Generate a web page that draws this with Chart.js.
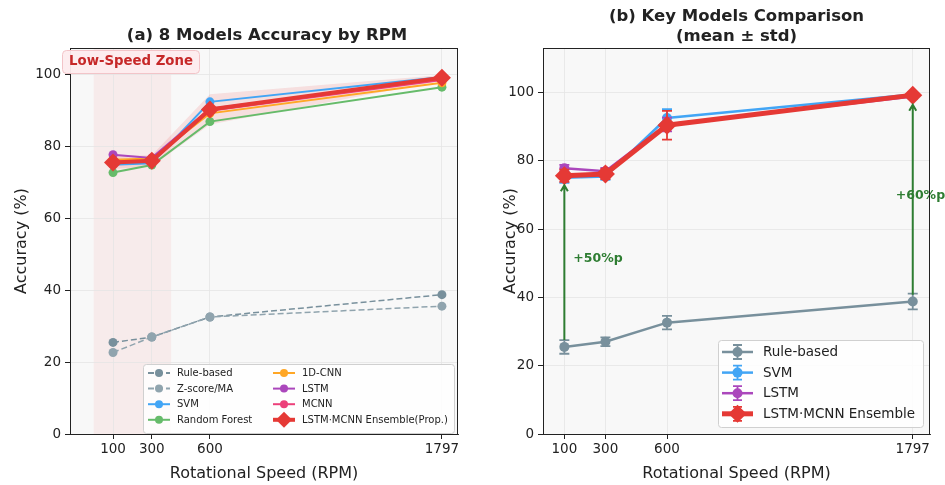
<!DOCTYPE html>
<html>
<head>
<meta charset="utf-8">
<script src="https://cdn.jsdelivr.net/npm/chart.js@4.4.1/dist/chart.umd.min.js"></script>
<style>
  body { margin: 0; background: #fff; }
  #wrap { position: relative; width: 945px; height: 485px; }
  .box { position: absolute; top: 0; height: 485px; }
  #boxA { left: 0; width: 472px; }
  #boxB { left: 472px; width: 473px; }
</style>
</head>
<body>
<div id="wrap">
  <div class="box" id="boxA"><canvas id="chartA"></canvas></div>
  <div class="box" id="boxB"><canvas id="chartB"></canvas></div>
</div>
<script>
// ---- data ----
const rpm = [100, 300, 600, 1797];
const ruleBased = [25.5, 27.0, 32.6, 38.8];
const zScoreMA = [22.7, 27.0, 32.6, 35.6];
const svm = [75.0, 75.4, 92.5, 99.4];
const randomForest = [72.8, 74.9, 87.0, 96.6];
const cnn1d = [76.4, 76.7, 89.3, 97.8];
const lstm = [77.8, 76.9, 90.6, 98.8];
const mcnn = [75.9, 76.0, 90.0, 98.6];
const ensemble = [75.6, 76.1, 90.4, 99.2];

const ruleStd = [2.0, 1.3, 2.0, 2.3];
const svmStd = [1.5, 1.0, 2.6, 0.5];
const lstmStd = [1.0, 1.0, 2.0, 0.7];
const ensembleStd = [1.8, 1.5, 4.2, 0.8];

const yTicks = [0, 20, 40, 60, 80, 100];
const lowSpeedZone = [0, 400];
const gapLabels = ["+50%p", "+60%p"];
const gapIdx = [0, 3];

const FONT = "'DejaVu Sans', sans-serif";
const INK = "#222";
Chart.defaults.font.family = FONT;

const colors = {
  rule: "#78909C", z: "#90A4AE", svm: "#42A5F5", rf: "#66BB6A",
  cnn: "#FFA726", lstm: "#AB47BC", mcnn: "#EC407A", ens: "#E53935", gap: "#2E7D32"
};

const pts = (arr) => arr.map((v, i) => ({ x: rpm[i], y: v }));

const leftSeries = [
  { label: "Rule-based", data: ruleBased, color: colors.rule, dash: [6, 3] },
  { label: "Z-score/MA", data: zScoreMA, color: colors.z, dash: [6, 3] },
  { label: "SVM", data: svm, color: colors.svm },
  { label: "Random Forest", data: randomForest, color: colors.rf },
  { label: "1D-CNN", data: cnn1d, color: colors.cnn },
  { label: "LSTM", data: lstm, color: colors.lstm },
  { label: "MCNN", data: mcnn, color: colors.mcnn },
  { label: "LSTM·MCNN Ensemble(Prop.)", data: ensemble, color: colors.ens, big: true }
];

const rightSeries = [
  { label: "Rule-based", data: ruleBased, std: ruleStd, color: colors.rule },
  { label: "SVM", data: svm, std: svmStd, color: colors.svm },
  { label: "LSTM", data: lstm, std: lstmStd, color: colors.lstm },
  { label: "LSTM·MCNN Ensemble", data: ensemble, std: ensembleStd, color: colors.ens, big: true }
];

// ---- helpers ----
function xScale(min, max) {
  return {
    type: "linear", min, max,
    afterBuildTicks: (s) => { s.ticks = rpm.map((v) => ({ value: v })); },
    afterFit: (s) => { s.height = 51; },
    grid: { color: "#e4e4e4", lineWidth: 0.8, tickColor: INK, tickLength: 5, tickWidth: 1 },
    border: { color: INK, width: 1 },
    ticks: { color: INK, font: { size: 13.5 }, padding: 2, maxRotation: 0, autoSkip: false, callback: (v) => String(v) },
    title: { display: true, text: "Rotational Speed (RPM)", color: INK, font: { size: 16 }, padding: { top: 0, bottom: 2 } }
  };
}
function yScale(max, width, titlePad) {
  return {
    min: 0, max,
    afterBuildTicks: (s) => { s.ticks = yTicks.map((v) => ({ value: v })); },
    afterFit: (s) => { s.width = width; },
    grid: { color: "#e4e4e4", lineWidth: 0.8, tickColor: INK, tickLength: 5, tickWidth: 1 },
    border: { color: INK, width: 1 },
    ticks: { color: INK, font: { size: 13.5 }, padding: 4 },
    title: { display: true, text: "Accuracy (%)", color: INK, font: { size: 16 }, padding: { top: titlePad, bottom: 0 } }
  };
}
function drawBox(ctx, x, y, w, h) {
  ctx.save();
  ctx.fillStyle = "rgba(255,255,255,0.85)";
  ctx.strokeStyle = "#d0d0d0";
  ctx.lineWidth = 1;
  ctx.beginPath();
  ctx.roundRect(x + 0.5, y + 0.5, w, h, 3);
  ctx.fill();
  ctx.stroke();
  ctx.restore();
}
function marker(ctx, style, x, y, r, color) {
  ctx.fillStyle = color;
  ctx.strokeStyle = color;
  Chart.helpers.drawPoint(ctx, { pointStyle: style, radius: r, borderWidth: 0, rotation: 0 }, x, y);
}

const backdrop = {
  id: "backdrop",
  beforeDraw(chart) {
    const { ctx, chartArea: a } = chart;
    ctx.save();
    ctx.fillStyle = "#f8f8f8";
    ctx.fillRect(a.left, a.top, a.right - a.left, a.bottom - a.top);
    if (chart.canvas.id === "chartA") {
      const x = chart.scales.x;
      const x0 = x.getPixelForValue(lowSpeedZone[0]);
      const x1 = x.getPixelForValue(lowSpeedZone[1]);
      ctx.fillStyle = "rgba(239,83,80,0.075)";
      ctx.fillRect(x0, a.top, x1 - x0, a.bottom - a.top);
    }
    ctx.restore();
  },
  afterDraw(chart) {
    const { ctx, chartArea: a } = chart;
    ctx.save();
    ctx.strokeStyle = INK;
    ctx.lineWidth = 1;
    ctx.strokeRect(a.left + 0.5, a.top + 0.5, a.right - a.left - 1, a.bottom - a.top);
    ctx.restore();
  }
};

// ---- chart (a) ----
const bandUpper = ensemble.map((v, i) => v + ensembleStd[i]);
const bandLower = ensemble.map((v, i) => v - ensembleStd[i]);

const leftSets = [
  { label: "band+", data: pts(bandUpper), borderWidth: 0, pointRadius: 0, fill: "+1", backgroundColor: "rgba(229,57,53,0.13)", order: 20 },
  { label: "band-", data: pts(bandLower), borderWidth: 0, pointRadius: 0, fill: false, order: 21 }
].concat(leftSeries.map((s, i) => ({
  label: s.label,
  data: pts(s.data),
  borderColor: s.color,
  backgroundColor: s.color,
  borderWidth: s.big ? 4 : (s.dash ? 1.5 : 2),
  borderDash: s.dash || [],
  pointStyle: s.big ? "rectRot" : "circle",
  pointRadius: s.big ? 9 : 4.5,
  pointBorderWidth: 0,
  fill: false,
  order: leftSeries.length - i
})));

const panelA = {
  id: "panelA",
  afterDraw(chart) {
    const { ctx, chartArea: a } = chart;
    ctx.save();
    ctx.fillStyle = INK;
    ctx.font = `bold 16.5px ${FONT}`;
    ctx.textAlign = "center";
    ctx.textBaseline = "middle";
    ctx.fillText("(a) 8 Models Accuracy by RPM", (a.left + a.right) / 2 + 3, 36);

    // low speed tag
    ctx.fillStyle = "rgba(253,236,238,0.95)";
    ctx.strokeStyle = "#f2c4c8";
    ctx.beginPath();
    ctx.roundRect(62.5, 50.5, 137, 23, 4);
    ctx.fill();
    ctx.stroke();
    ctx.fillStyle = "#C62828";
    ctx.font = `bold 13.3px ${FONT}`;
    ctx.fillText("Low-Speed Zone", 131, 62);

    // legend
    drawBox(ctx, 143, 364, 311, 69);
    ctx.font = `10px ${FONT}`;
    ctx.textAlign = "left";
    leftSeries.forEach((s, i) => {
      const col = Math.floor(i / 4);
      const row = i % 4;
      const lx = col === 0 ? 148 : 273;
      const ly = 373 + row * 15.6;
      ctx.strokeStyle = s.color;
      ctx.lineWidth = s.big ? 4 : 2;
      ctx.setLineDash(s.dash ? [6, 3] : []);
      ctx.beginPath();
      ctx.moveTo(lx, ly);
      ctx.lineTo(lx + 22, ly);
      ctx.stroke();
      ctx.setLineDash([]);
      marker(ctx, s.big ? "rectRot" : "circle", lx + 11, ly, s.big ? 8 : 4, s.color);
      ctx.fillStyle = INK;
      ctx.fillText(s.label, lx + 29, ly + 0.5);
    });
    ctx.restore();
  }
};

new Chart(document.getElementById("chartA"), {
  type: "line",
  data: { datasets: leftSets },
  options: {
    responsive: true, maintainAspectRatio: false, animation: false, events: [],
    layout: { padding: { top: 48, right: 14, left: 0, bottom: 0 } },
    plugins: { legend: { display: false }, tooltip: { enabled: false }, title: { display: false } },
    scales: { x: xScale(-122, 1880), y: yScale(107.5, 70, 12.5) }
  },
  plugins: [backdrop, panelA]
});

// ---- chart (b) ----
const rightSets = rightSeries.map((s, i) => ({
  label: s.label,
  data: pts(s.data),
  std: s.std,
  borderColor: s.color,
  backgroundColor: s.color,
  borderWidth: s.big ? 5 : 2.5,
  pointStyle: s.big ? "rectRot" : "circle",
  pointRadius: s.big ? 9.5 : 5,
  pointBorderWidth: 0,
  fill: false,
  order: rightSeries.length - i
}));

const panelB = {
  id: "panelB",
  beforeDatasetDraw(chart, args) {
    const ds = chart.data.datasets[args.index];
    if (!ds.std) return;
    const { ctx } = chart;
    const y = chart.scales.y;
    ctx.save();
    ctx.strokeStyle = ds.borderColor;
    ctx.lineWidth = 1.8;
    args.meta.data.forEach((el, i) => {
      const v = ds.data[i].y;
      const top = y.getPixelForValue(v + ds.std[i]);
      const bot = y.getPixelForValue(v - ds.std[i]);
      ctx.beginPath();
      ctx.moveTo(el.x, top); ctx.lineTo(el.x, bot);
      ctx.moveTo(el.x - 5, top); ctx.lineTo(el.x + 5, top);
      ctx.moveTo(el.x - 5, bot); ctx.lineTo(el.x + 5, bot);
      ctx.stroke();
    });
    ctx.restore();
  },
  afterDatasetsDraw(chart) {
    const { ctx } = chart;
    const x = chart.scales.x, y = chart.scales.y;
    ctx.save();
    ctx.strokeStyle = colors.gap;
    ctx.fillStyle = colors.gap;
    ctx.lineWidth = 2;
    gapIdx.forEach((k, j) => {
      const px = x.getPixelForValue(rpm[k]);
      const yLo = y.getPixelForValue(ruleBased[k] + 2.0);
      const yHi = y.getPixelForValue(ensemble[k] - 2.8);
      ctx.beginPath();
      ctx.moveTo(px, yLo); ctx.lineTo(px, yHi);
      ctx.moveTo(px - 3.5, yHi + 6); ctx.lineTo(px, yHi); ctx.lineTo(px + 3.5, yHi + 6);
      ctx.stroke();
      const mid = y.getPixelForValue((ruleBased[k] + ensemble[k]) / 2) - 3;
      ctx.font = `bold 12.5px ${FONT}`;
      ctx.textAlign = "left";
      ctx.textBaseline = "middle";
      ctx.fillText(gapLabels[j], j === 0 ? px + 9 : px - 17, mid);
    });
    ctx.restore();
  },
  afterDraw(chart) {
    const { ctx, chartArea: a } = chart;
    ctx.save();
    ctx.fillStyle = INK;
    ctx.font = `bold 16.5px ${FONT}`;
    ctx.textAlign = "center";
    ctx.textBaseline = "middle";
    const cx = (a.left + a.right) / 2;
    ctx.fillText("(b) Key Models Comparison", cx, 17);
    ctx.fillText("(mean ± std)", cx, 37);

    // legend
    drawBox(ctx, 246, 340, 205, 87);
    ctx.font = `13.5px ${FONT}`;
    ctx.textAlign = "left";
    rightSeries.forEach((s, i) => {
      const lx = 250, ly = 352 + i * 20.6;
      ctx.strokeStyle = s.color;
      ctx.lineWidth = s.big ? 5 : 2.5;
      ctx.beginPath();
      ctx.moveTo(lx, ly); ctx.lineTo(lx + 31, ly);
      ctx.stroke();
      ctx.lineWidth = 1.8;
      ctx.beginPath();
      ctx.moveTo(lx + 15.5, ly - 7); ctx.lineTo(lx + 15.5, ly + 7);
      ctx.moveTo(lx + 11, ly - 7); ctx.lineTo(lx + 20, ly - 7);
      ctx.moveTo(lx + 11, ly + 7); ctx.lineTo(lx + 20, ly + 7);
      ctx.stroke();
      marker(ctx, s.big ? "rectRot" : "circle", lx + 15.5, ly, s.big ? 9 : 5, s.color);
      ctx.fillStyle = INK;
      ctx.fillText(s.label, lx + 41, ly + 0.5);
    });
    ctx.restore();
  }
};

new Chart(document.getElementById("chartB"), {
  type: "line",
  data: { datasets: rightSets },
  options: {
    responsive: true, maintainAspectRatio: false, animation: false, events: [],
    layout: { padding: { top: 48, right: 15, left: 0, bottom: 0 } },
    plugins: { legend: { display: false }, tooltip: { enabled: false }, title: { display: false } },
    scales: { x: xScale(-4, 1881), y: yScale(113, 71, 29.5) }
  },
  plugins: [backdrop, panelB]
});
</script>
</body>
</html>
